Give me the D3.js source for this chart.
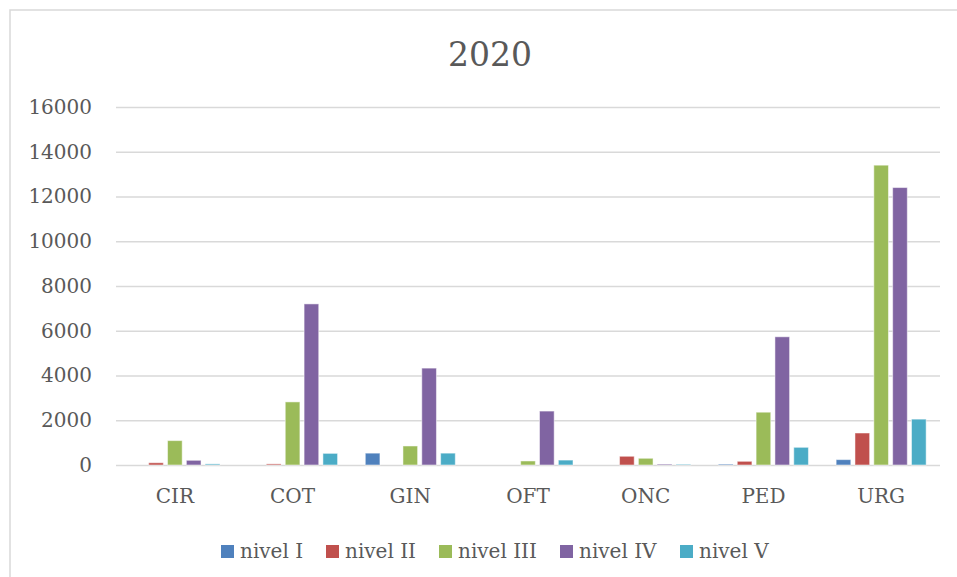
<!DOCTYPE html>
<html>
<head>
<meta charset="utf-8">
<script src="https://cdn.jsdelivr.net/npm/d3@7"></script>
<style>
  html, body { margin: 0; padding: 0; background: #fff; }
  svg text { font-family: "DejaVu Serif", serif; fill: #595959; }
</style>
</head>
<body>
<svg id="chart" width="957" height="577"></svg>
<script>
// Departments (x categories)
const categories = ["CIR", "COT", "GIN", "OFT", "ONC", "PED", "URG"];
// Series names, one per nivel
const seriesNames = ["nivel I", "nivel II", "nivel III", "nivel IV", "nivel V"];
// Values per series, in the category order above
const nivelI   = [0,    0,    530,  0,    0,   40,   240];
const nivelII  = [100,  50,   0,    0,    390, 165,  1430];
const nivelIII = [1090, 2820, 850,  180,  300, 2360, 13400];
const nivelIV  = [210,  7200, 4330, 2410, 40,  5730, 12400];
const nivelV   = [50,   520,  530,  220,  30,  790,  2050];
const yTicks = [0, 2000, 4000, 6000, 8000, 10000, 12000, 14000, 16000];
const colors = ["#4F81BD", "#C0504D", "#9BBB59", "#8064A2", "#4BACC6"];

const seriesValues = [nivelI, nivelII, nivelIII, nivelIV, nivelV];

const svg = d3.select("#chart");
const W = 957, H = 577;
const plot = { left: 116, right: 940, top: 107, bottom: 465 };

// Chart frame (left and top edges visible)
svg.append("path")
  .attr("d", `M10,${H} L10,10 L${W},10`)
  .attr("fill", "none")
  .attr("stroke", "#d9d9d9")
  .attr("stroke-width", 1.5);

// Title
svg.append("text")
  .attr("x", 490).attr("y", 66)
  .attr("text-anchor", "middle")
  .style("font-size", "33px")
  .text("2020");

const y = d3.scaleLinear().domain([0, 16000]).range([plot.bottom, plot.top]);
const x0 = d3.scaleBand().domain(categories).range([plot.left, plot.right]).padding(0);
const x1 = d3.scaleBand().domain(seriesNames).range([0, 90]).paddingInner(4 / 18).paddingOuter(0);

// Gridlines and y labels
const yAxis = d3.axisLeft(y).tickValues(yTicks).tickSize(-(plot.right - plot.left)).tickPadding(24).tickFormat(d3.format("d"));
const gy = svg.append("g").attr("transform", `translate(${plot.left},0)`).call(yAxis);
gy.select(".domain").remove();
gy.selectAll(".tick line").attr("stroke", "#d9d9d9").attr("stroke-width", 1.5);
gy.selectAll(".tick text").style("font-size", "20px").attr("fill", "#595959").attr("dy", "0.32em");

// Category labels
const xAxis = d3.axisBottom(x0).tickSize(0).tickPadding(24);
const gx = svg.append("g").attr("transform", `translate(0,${plot.bottom})`).call(xAxis);
gx.select(".domain").remove();
gx.selectAll(".tick text").style("font-size", "20px").attr("fill", "#595959");

// Bars
const groupOffset = (x0.bandwidth() - 90) / 2;
const groups = svg.append("g").selectAll("g")
  .data(categories)
  .join("g")
  .attr("transform", d => `translate(${x0(d) + groupOffset},0)`);

groups.selectAll("rect")
  .data((c, ci) => seriesNames.map((s, si) => ({ s, si, v: seriesValues[si][ci] })))
  .join("rect")
  .attr("x", d => x1(d.s))
  .attr("width", x1.bandwidth())
  .attr("y", d => y(d.v))
  .attr("height", d => y(0) - y(d.v))
  .attr("fill", d => colors[d.si])
  .attr("stroke", "#ffffff")
  .attr("stroke-opacity", 0.5)
  .attr("stroke-width", 1);

// Legend
const legendX = [221, 326, 439, 560, 680];
const legend = svg.append("g").selectAll("g")
  .data(seriesNames)
  .join("g")
  .attr("transform", (d, i) => `translate(${legendX[i]},545)`);
legend.append("rect").attr("width", 13).attr("height", 13).attr("fill", (d, i) => colors[i]);
legend.append("text").attr("x", 19).attr("y", 13).style("font-size", "20px").text(d => d);
</script>
</body>
</html>
